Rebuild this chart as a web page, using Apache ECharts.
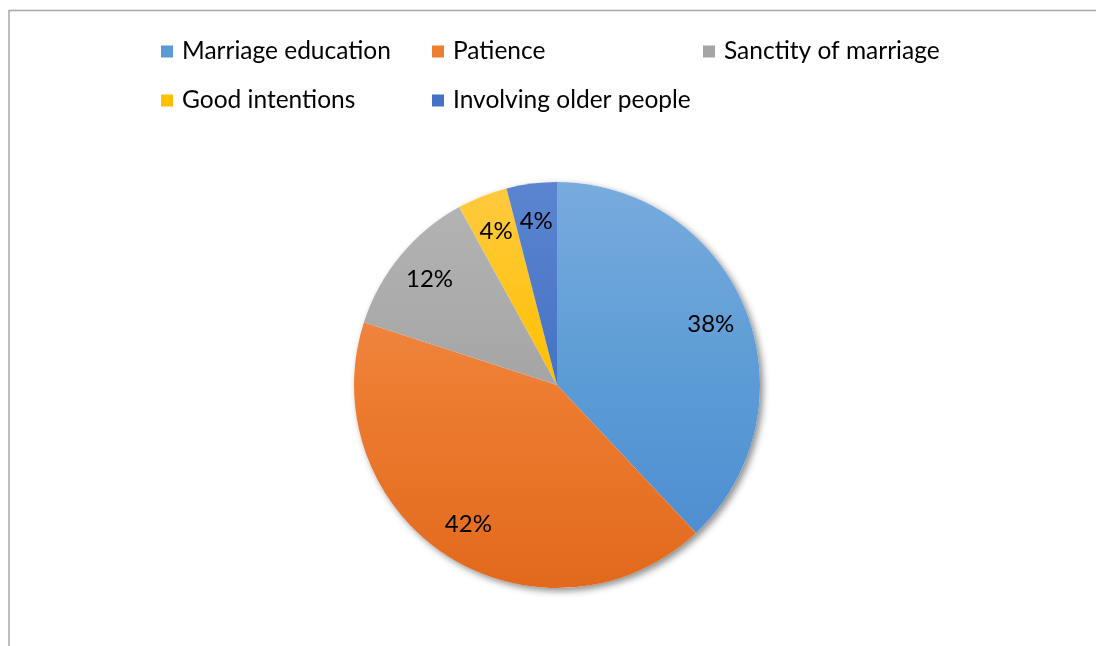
<!DOCTYPE html>
<html>
<head>
<meta charset="utf-8">
<script src="https://cdn.jsdelivr.net/npm/echarts@6/dist/echarts.min.js"></script>
<style>
	html, body { margin: 0; padding: 0; background: #fff; }
	#chart { width: 1096px; height: 646px; }
</style>
</head>
<body>
<div id="chart"></div>
<script>
	// data (percent of answers)
	const categories = ['Marriage education', 'Patience', 'Sanctity of marriage', 'Good intentions', 'Involving older people']
	const values = [38, 42, 12, 4, 4]
	// excel-like fills: light top, base, dark bottom
	const topColors = ['#78abde', '#f5955d', '#b5b5b5', '#ffca40', '#5b85d0']
	const baseColors = ['#5b9bd5', '#ed7d31', '#a5a5a5', '#ffc000', '#4472c4']
	const bottomColors = ['#4a8ad0', '#e2691c', '#979797', '#f0b400', '#3a64ba']

	const cx = 557, cy = 385, R = 203

	function fill(i) {
		return new echarts.graphic.LinearGradient(0, cy - R, 0, cy + R, [
			{ offset: 0, color: topColors[i] },
			{ offset: 0.5, color: baseColors[i] },
			{ offset: 1, color: bottomColors[i] }
		], true)
	}

	const pieData = categories.map((name, i) => ({
		name: name,
		value: values[i],
		itemStyle: { color: fill(i) }
	}))
	const labelData = categories.map((name, i) => ({
		name: name,
		value: values[i]
	}))
	const legendData = categories.map((name, i) => ({
		name: name,
		itemStyle: { color: baseColors[i] }
	}))

	const chart = echarts.init(document.getElementById('chart'))
	const option = {
		animation: false,
		graphic: [
			{
				type: 'rect',
				shape: { x: 9, y: 10.5, width: 1200, height: 800 },
				style: { fill: 'none', stroke: '#a9a9a9', lineWidth: 1.5 },
				silent: true
			}
		],
		legend: {
			left: 161,
			top: 38,
			width: 840,
			padding: 0,
			orient: 'horizontal',
			icon: 'rect',
			itemWidth: 12,
			itemHeight: 12,
			itemGap: 22,
			selectedMode: false,
			textStyle: {
				fontFamily: 'Lato',
				fontSize: 24.5,
				color: '#000',
				width: 228,
				lineHeight: 27,
				padding: [0, 0, 0, 4]
			},
			data: legendData
		},
		series: [
			{
				// soft shadow under the whole pie
				type: 'pie',
				name: 'shadow',
				center: [cx, cy],
				radius: R,
				silent: true,
				z: 1,
				label: { show: false },
				itemStyle: {
					color: '#fff',
					shadowColor: 'rgba(0,0,0,0.45)',
					shadowBlur: 7,
					shadowOffsetX: 3,
					shadowOffsetY: 3
				},
				data: [{ value: 1, name: '' }]
			},
			{
				type: 'pie',
				name: 'answers',
				center: [cx, cy],
				radius: R,
				startAngle: 90,
				clockwise: true,
				z: 2,
				label: { show: false },
				labelLine: { show: false },
				emphasis: { disabled: true },
				data: pieData
			},
			{
				// transparent ring only used to place labels near the rim
				type: 'pie',
				name: 'labels',
				center: [cx, cy],
				radius: [R * 0.6, R],
				startAngle: 90,
				clockwise: true,
				silent: true,
				z: 3,
				itemStyle: { color: 'rgba(0,0,0,0)' },
				label: {
					show: true,
					position: 'inside',
					formatter: '{c}%',
					fontFamily: 'Lato',
					fontSize: 24,
					color: '#000'
				},
				labelLine: { show: false },
				data: labelData
			}
		]
	}
	chart.setOption(option)
	window.addEventListener('resize', function () {
		chart.resize()
	})
</script>
</body>
</html>
